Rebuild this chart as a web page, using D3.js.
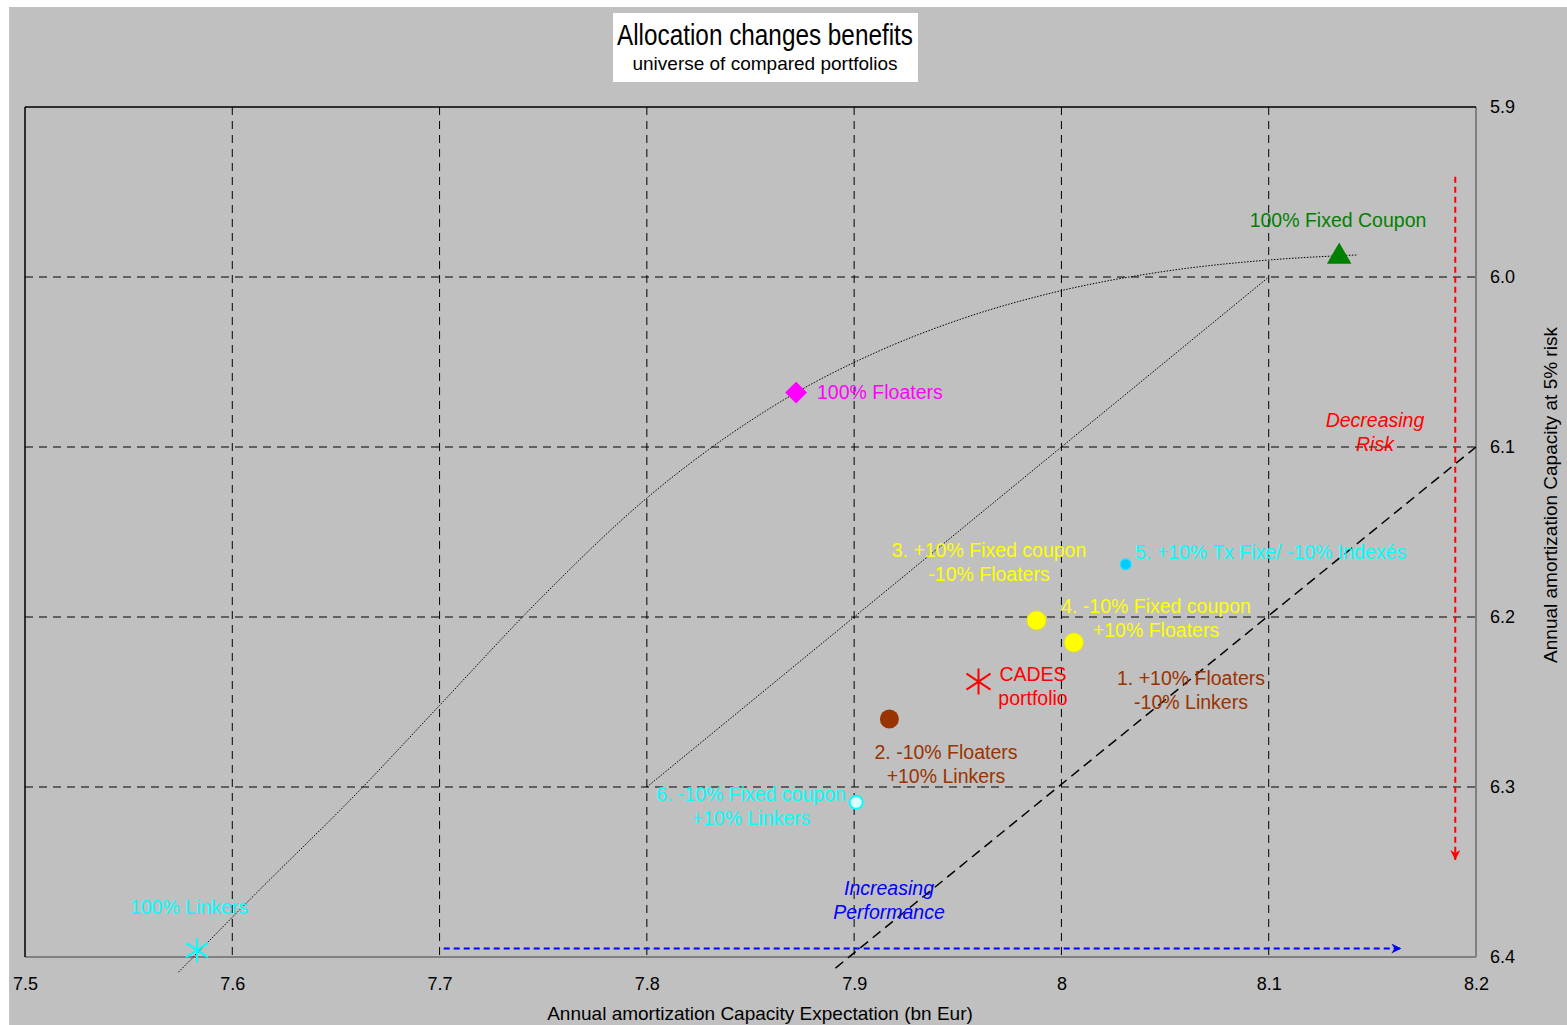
<!DOCTYPE html>
<html><head><meta charset="utf-8">
<script src="https://cdn.jsdelivr.net/npm/d3@7"></script>
<style>
html,body{margin:0;padding:0;background:#fff;}
svg{display:block;font-family:"Liberation Sans",Arial,sans-serif;}
</style></head>
<body><svg id="c" width="1567" height="1025"></svg>
<script>
// ---- data ----
const xTicks = [7.5, 7.6, 7.7, 7.8, 7.9, 8.0, 8.1, 8.2];
const xTickLabels = ["7.5", "7.6", "7.7", "7.8", "7.9", "8", "8.1", "8.2"];
const yTicks = [5.9, 6.0, 6.1, 6.2, 6.3, 6.4];
const yTickLabels = ["5.9", "6.0", "6.1", "6.2", "6.3", "6.4"];

const pointNames = ["100% Fixed Coupon", "100% Floaters", "100% Linkers", "CADES portfolio",
  "1. +10% Floaters -10% Linkers", "2. -10% Floaters +10% Linkers", "3. +10% Fixed coupon -10% Floaters",
  "4. -10% Fixed coupon +10% Floaters", "5. +10% Tx Fixe/ -10% Indexés", "6. -10% Fixed coupon +10% Linkers"];
const pointX = [8.134, 7.872, 7.583, 7.960, 7.917, 7.917, 7.988, 8.006, 8.031, 7.901];
const pointY = [5.988, 6.068, 6.396, 6.238, 6.260, 6.260, 6.202, 6.215, 6.169, 6.309];

// frontier (dotted curve)
const frontierX = [7.574, 7.607, 7.663, 7.700, 7.748, 7.800, 7.835, 7.872, 7.913, 7.951, 8.000, 8.048, 8.100, 8.143];
const frontierY = [6.409, 6.368, 6.300, 6.252, 6.190, 6.130, 6.097, 6.068, 6.043, 6.025, 6.008, 5.997, 5.990, 5.987];
// straight dotted line
const line2X = [7.800, 8.100];
const line2Y = [6.300, 6.000];
// dashed black line
const line3X = [7.891, 8.200];
const line3Y = [6.4065, 6.100];
// arrows
const riskArrowX = [8.190, 8.190];
const riskArrowY = [5.941, 6.343];
const perfArrowX = [7.702, 8.164];
const perfArrowY = [6.395, 6.395];

// ---- layout ----
const svg = d3.select("#c");
const L = 25, R = 1476, T = 107, B = 957;
const x = d3.scaleLinear().domain([7.5, 8.2]).range([L, R]);
const y = d3.scaleLinear().domain([5.9, 6.4]).range([T, B]);

svg.append("rect").attr("x", 9).attr("y", 7).attr("width", 1558).attr("height", 1018).attr("fill", "#c0c0c0");

// grid
const g = svg.append("g");
g.selectAll(".gx").data(xTicks.slice(1, -1)).join("line")
  .attr("x1", d => x(d)).attr("x2", d => x(d)).attr("y1", T).attr("y2", B)
  .attr("stroke", "#000").attr("stroke-width", 1).attr("stroke-dasharray", "8,6");
g.selectAll(".gy").data(yTicks.slice(1, -1)).join("line")
  .attr("y1", d => y(d)).attr("y2", d => y(d)).attr("x1", L).attr("x2", R)
  .attr("stroke", "#000").attr("stroke-width", 1).attr("stroke-dasharray", "8,6");

// frame
svg.append("line").attr("x1", L).attr("x2", R).attr("y1", B).attr("y2", B).attr("stroke", "#808080").attr("stroke-width", 2);
svg.append("line").attr("x1", R).attr("x2", R).attr("y1", T).attr("y2", B).attr("stroke", "#808080").attr("stroke-width", 2);
svg.append("line").attr("x1", L).attr("x2", R).attr("y1", T).attr("y2", T).attr("stroke", "#000").attr("stroke-width", 1.5);
svg.append("line").attr("x1", L).attr("x2", L).attr("y1", T).attr("y2", B).attr("stroke", "#000").attr("stroke-width", 1.5);

// axes tick labels
const xAxis = d3.axisBottom(x).tickValues(xTicks).tickFormat((d, i) => xTickLabels[i]).tickSize(0).tickPadding(20);
const xa = svg.append("g").attr("transform", `translate(0,${B})`).call(xAxis);
xa.select(".domain").remove();
xa.selectAll("text").attr("font-size", 18).attr("fill", "#000").attr("font-family", "Liberation Sans, Arial");
const yAxis = d3.axisRight(y).tickValues(yTicks).tickFormat((d, i) => yTickLabels[i]).tickSize(0).tickPadding(14);
const ya = svg.append("g").attr("transform", `translate(${R},0)`).call(yAxis);
ya.select(".domain").remove();
ya.selectAll("text").attr("font-size", 18).attr("fill", "#000").attr("font-family", "Liberation Sans, Arial");

// axis titles
svg.append("text").attr("x", 760).attr("y", 1020).attr("text-anchor", "middle").attr("font-size", 19).text("Annual amortization Capacity Expectation (bn Eur)");
svg.append("text").attr("transform", "translate(1557,495) rotate(-90)").attr("text-anchor", "middle").attr("font-size", 19).text("Annual amortization Capacity at 5% risk");

// title box
svg.append("rect").attr("x", 613).attr("y", 13).attr("width", 305).attr("height", 69).attr("fill", "#fff");
svg.append("text").attr("x", 765).attr("y", 45).attr("text-anchor", "middle").attr("font-size", 29)
  .attr("font-family", "Liberation Sans Narrow, Arial Narrow, Liberation Sans")
  .attr("textLength", 296).attr("lengthAdjust", "spacingAndGlyphs").text("Allocation changes benefits");
svg.append("text").attr("x", 765).attr("y", 70).attr("text-anchor", "middle").attr("font-size", 19).text("universe of compared portfolios");

// lines
svg.append("path").datum(frontierX.map((v, i) => [v, frontierY[i]]))
  .attr("d", d3.line().x(d => x(d[0])).y(d => y(d[1])).curve(d3.curveMonotoneX))
  .attr("fill", "none").attr("stroke", "#000").attr("stroke-width", 1).attr("stroke-dasharray", "1.5,1.5");
svg.append("path").datum(line2X.map((v, i) => [v, line2Y[i]]))
  .attr("d", d3.line().x(d => x(d[0])).y(d => y(d[1]))).attr("fill", "none").attr("stroke", "#000").attr("stroke-width", 1).attr("stroke-dasharray", "1.5,1.5");
svg.append("path").datum(line3X.map((v, i) => [v, line3Y[i]]))
  .attr("d", d3.line().x(d => x(d[0])).y(d => y(d[1]))).attr("fill", "none").attr("stroke", "#000").attr("stroke-width", 1.5).attr("stroke-dasharray", "10,6");

// arrows
const defs = svg.append("defs");
function marker(id, col) {
  defs.append("marker").attr("id", id).attr("viewBox", "0 0 10 10").attr("refX", 10).attr("refY", 5)
    .attr("markerWidth", 12).attr("markerHeight", 10).attr("markerUnits", "userSpaceOnUse").attr("orient", "auto")
    .append("path").attr("d", "M0,0 L10,5 L0,10 L3,5 Z").attr("fill", col);
}
marker("ar", "#ff0000"); marker("ab", "#0000ff");
svg.append("line").attr("x1", x(riskArrowX[0])).attr("x2", x(riskArrowX[1])).attr("y1", y(riskArrowY[0])).attr("y2", y(riskArrowY[1]))
  .attr("stroke", "#ff0000").attr("stroke-width", 2).attr("stroke-dasharray", "6,4").attr("marker-end", "url(#ar)");
svg.append("line").attr("x1", x(perfArrowX[0])).attr("x2", x(perfArrowX[1])).attr("y1", y(perfArrowY[0])).attr("y2", y(perfArrowY[1]))
  .attr("stroke", "#0000ff").attr("stroke-width", 2).attr("stroke-dasharray", "6,4").attr("marker-end", "url(#ab)");

// markers
const P = i => [x(pointX[i]), y(pointY[i])];
function asterisk(cx, cy, r, dx, dy, col, w) {
  const p = d3.path();
  p.moveTo(cx, cy - r); p.lineTo(cx, cy + r);
  p.moveTo(cx - dx, cy - dy); p.lineTo(cx + dx, cy + dy);
  p.moveTo(cx - dx, cy + dy); p.lineTo(cx + dx, cy - dy);
  svg.append("path").attr("d", p.toString()).attr("stroke", col).attr("stroke-width", w).attr("fill", "none");
}
{ const [cx, cy] = P(0);
  svg.append("path").attr("d", d3.symbol(d3.symbolTriangle, 260)()).attr("transform", `translate(${cx},${cy})`).attr("fill", "#008000"); }
{ const [cx, cy] = P(1);
  svg.append("path").attr("d", d3.symbol(d3.symbolSquare, 240)()).attr("transform", `translate(${cx},${cy}) rotate(45)`).attr("fill", "#ff00ff"); }
{ const [cx, cy] = P(2); asterisk(cx, cy, 12, 11, 7, "#00ffff", 2); }
{ const [cx, cy] = P(3); asterisk(cx, cy, 13, 12, 8, "#ff0000", 2); }
{ const [cx, cy] = P(5); svg.append("circle").attr("cx", cx).attr("cy", cy).attr("r", 9.5).attr("fill", "#993300"); }
{ const [cx, cy] = P(6); svg.append("circle").attr("cx", cx).attr("cy", cy).attr("r", 9.5).attr("fill", "#ffff00").attr("stroke", "#e6e600").attr("stroke-width", 0.8); }
{ const [cx, cy] = P(7); svg.append("circle").attr("cx", cx).attr("cy", cy).attr("r", 9.5).attr("fill", "#ffff00").attr("stroke", "#e6e600").attr("stroke-width", 0.8); }
{ const [cx, cy] = P(8); svg.append("circle").attr("cx", cx).attr("cy", cy).attr("r", 5.5).attr("fill", "#00ccff").attr("stroke", "#33ddff").attr("stroke-width", 1.2); }
{ const [cx, cy] = P(9); svg.append("circle").attr("cx", cx).attr("cy", cy).attr("r", 6.5).attr("fill", "#ddffff").attr("stroke", "#00ffff").attr("stroke-width", 2); }

// labels
function label(lines, cx, by, col, anchor, italic) {
  const t = svg.append("text").attr("x", cx).attr("y", by).attr("text-anchor", anchor || "middle").attr("font-size", 19.5).attr("fill", col);
  if (italic) t.attr("font-style", "italic");
  lines.forEach((s, i) => t.append("tspan").attr("x", cx).attr("dy", i === 0 ? 0 : 24).text(s));
}
label(["100% Fixed Coupon"], 1338, 227, "#008000");
label(["100% Floaters"], 817, 399, "#ff00ff", "start");
label(["100% Linkers"], 189, 914, "#00ffff");
label(["CADES", "portfolio"], 1033, 681, "#ff0000");
label(["3. +10% Fixed coupon", "-10% Floaters"], 989, 557, "#ffff00");
label(["4. -10% Fixed coupon", "+10% Floaters"], 1156, 613, "#ffff00");
label(["5. +10% Tx Fixe/ -10% Indexés"], 1135, 559, "#00ffff", "start");
label(["1. +10% Floaters", "-10% Linkers"], 1191, 685, "#993300");
label(["2. -10% Floaters", "+10% Linkers"], 946, 759, "#993300");
label(["6. -10% Fixed coupon", "+10% Linkers"], 751, 801, "#00ffff");
label(["Decreasing", "Risk"], 1375, 427, "#ff0000", "middle", true);
label(["Increasing", "Performance"], 889, 895, "#0000ff", "middle", true);
</script></body></html>
